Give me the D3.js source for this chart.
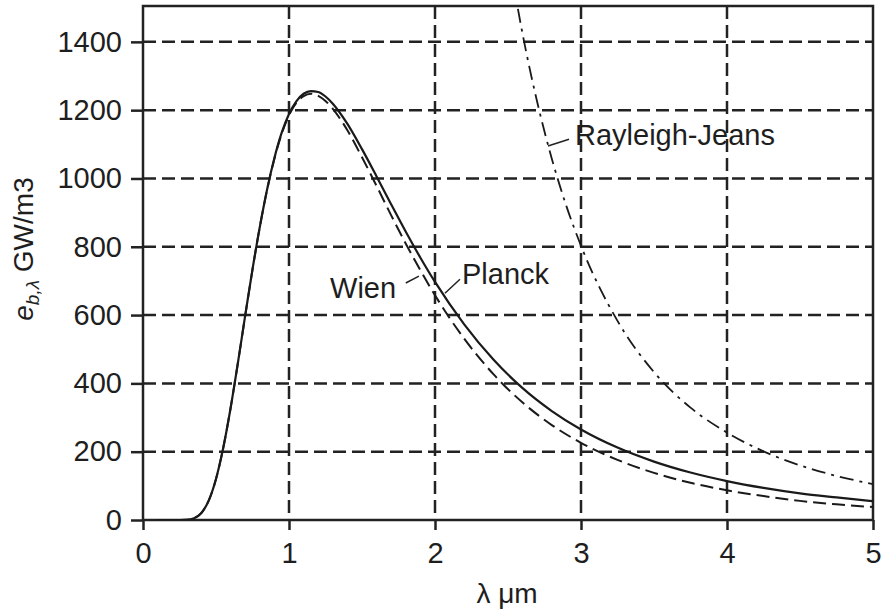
<!DOCTYPE html>
<html>
<head>
<meta charset="utf-8">
<script src="https://cdn.jsdelivr.net/npm/d3@7"></script>
<style>
  body { margin: 0; background: #fff; }
  svg { display: block; font-family: "Liberation Sans", Arial, Helvetica, sans-serif; }
  .tick text { font-size: 29px; fill: #1e1e1e; }
  .tick line { stroke: #222; stroke-width: 2.5; }
  .grid line { stroke: #222; stroke-width: 2.5; stroke-dasharray: 13, 6; }
  .label { font-size: 29px; fill: #1e1e1e; }
  .leader { stroke: #222; stroke-width: 1.5; fill: none; }
</style>
</head>
<body>
<div id="chart"></div>
<script>
// Spectral emissive power of a blackbody, GW/m3 vs wavelength in um

const lambdaBB = [0.1, 0.2, 0.3, 0.35, 0.4, 0.45, 0.5, 0.55, 0.6, 0.65, 0.7, 0.75, 0.8, 0.85, 0.9, 0.95,
  1.0, 1.05, 1.1, 1.15, 1.2, 1.25, 1.3, 1.4, 1.5, 1.6, 1.7, 1.8, 1.9, 2.0, 2.2, 2.4, 2.6, 2.8, 3.0,
  3.25, 3.5, 3.75, 4.0, 4.25, 4.5, 4.75, 5.0];

const planck = [0, 0, 0.7, 5.2, 20.6, 56.6, 120, 212, 328, 460, 599, 734, 858, 968, 1060, 1134,
  1189, 1226, 1248, 1256, 1253, 1240, 1219, 1160, 1086, 1006, 924, 844, 768, 697, 573, 470, 386, 319, 265,
  212, 171, 139, 114, 94, 78, 66, 55];

const wien = [0, 0, 0.7, 5.2, 20.6, 56.6, 120, 212, 328, 460, 598, 733, 858, 967, 1058, 1131,
  1185, 1221, 1241, 1248, 1242, 1227, 1204, 1141, 1062, 978, 892, 809, 731, 658, 531, 427, 344, 278, 226,
  176, 138, 109, 87, 70, 56, 46, 38];

const lambdaRJ = [2.5, 2.6, 2.7, 2.8, 2.9, 3.0, 3.25, 3.5, 3.75, 4.0, 4.25, 4.5, 4.75, 5.0];
const rayleighJeans = [1664, 1423, 1224, 1058, 919, 803, 583, 433, 329, 256, 201, 160, 129, 105];

const xTicks = [0, 1, 2, 3, 4, 5];
const yTicks = [0, 200, 400, 600, 800, 1000, 1200, 1400];

// curve labels: text anchor and leader line, in data units
const labels = [
  { text: "Wien", at: [1.281, 650], leader: [[1.80, 694], [1.89, 714]] },
  { text: "Planck", at: [2.185, 691], leader: [[2.068, 664], [2.171, 705]] },
  { text: "Rayleigh-Jeans", at: [2.959, 1098], leader: [[2.774, 1095], [2.918, 1115]] }
];

const WIDTH = 885;
const HEIGHT = 612;
const margin = { top: 6, right: 12, bottom: 92, left: 143 };

const svg = d3.select("#chart").append("svg")
  .attr("width", WIDTH)
  .attr("height", HEIGHT);

const x = d3.scaleLinear().domain([0, 5]).range([margin.left, WIDTH - margin.right]);
const y = d3.scaleLinear().domain([0, 1505]).range([HEIGHT - margin.bottom, margin.top]);

const [x0, x1] = x.range();
const [y0, y1] = y.range();

svg.append("clipPath").attr("id", "plot-clip")
  .append("rect")
  .attr("x", x0).attr("y", y1)
  .attr("width", x1 - x0).attr("height", y0 - y1);

// dashed grid
svg.append("g").attr("class", "grid")
  .selectAll("line")
  .data(yTicks.filter((d) => d > 0))
  .join("line")
  .attr("x1", x0).attr("x2", x1)
  .attr("y1", (d) => y(d)).attr("y2", (d) => y(d));

svg.append("g").attr("class", "grid")
  .selectAll("line")
  .data(xTicks.filter((d) => d > 0 && d < 5))
  .join("line")
  .attr("y1", y1).attr("y2", y0)
  .attr("x1", (d) => x(d)).attr("x2", (d) => x(d));

// axes
const xAxis = svg.append("g")
  .attr("transform", `translate(0,${y0})`)
  .call(d3.axisBottom(x).tickValues(xTicks).tickFormat(d3.format("d")).tickSize(10).tickPadding(12));
xAxis.select(".domain").remove();

const yAxis = svg.append("g")
  .attr("transform", `translate(${x0},0)`)
  .call(d3.axisLeft(y).tickValues(yTicks).tickFormat(d3.format("d")).tickSize(12).tickPadding(9));
yAxis.select(".domain").remove();

// frame
svg.append("rect")
  .attr("x", x0).attr("y", y1)
  .attr("width", x1 - x0).attr("height", y0 - y1)
  .attr("fill", "none")
  .attr("stroke", "#222")
  .attr("stroke-width", 2.5);

// curves
const line = d3.line()
  .x((d) => x(d[0]))
  .y((d) => y(d[1]))
  .curve(d3.curveMonotoneX);

const curves = svg.append("g").attr("clip-path", "url(#plot-clip)");

curves.append("path")
  .attr("d", line(d3.zip(lambdaBB, planck)))
  .attr("fill", "none")
  .attr("stroke", "#1a1a1a")
  .attr("stroke-width", 2.2);

curves.append("path")
  .attr("d", line(d3.zip(lambdaBB, wien)))
  .attr("fill", "none")
  .attr("stroke", "#1a1a1a")
  .attr("stroke-width", 2)
  .attr("stroke-dasharray", "13,6");

curves.append("path")
  .attr("d", line(d3.zip(lambdaRJ, rayleighJeans)))
  .attr("fill", "none")
  .attr("stroke", "#1a1a1a")
  .attr("stroke-width", 1.8)
  .attr("stroke-dasharray", "14,6,3,6");

// curve labels
const lab = svg.append("g");
lab.selectAll("path")
  .data(labels)
  .join("path")
  .attr("class", "leader")
  .attr("d", (d) => d3.line().x((p) => x(p[0])).y((p) => y(p[1]))(d.leader));

lab.selectAll("text")
  .data(labels)
  .join("text")
  .attr("class", "label")
  .attr("x", (d) => x(d.at[0]))
  .attr("y", (d) => y(d.at[1]))
  .text((d) => d.text);

// axis titles
svg.append("text")
  .attr("class", "label")
  .attr("x", 507)
  .attr("y", 603)
  .attr("text-anchor", "middle")
  .style("font-size", "28px")
  .text("λ μm");

const yt = svg.append("text")
  .attr("class", "label")
  .attr("transform", "translate(33,249) rotate(-90)")
  .attr("text-anchor", "middle")
  .style("font-size", "28px");
yt.append("tspan").attr("font-style", "italic").text("e");
yt.append("tspan").attr("font-style", "italic").attr("font-size", "19px").attr("dy", 6).text("b,λ");
yt.append("tspan").attr("dy", -6).text(" GW/m3");
</script>
</body>
</html>
